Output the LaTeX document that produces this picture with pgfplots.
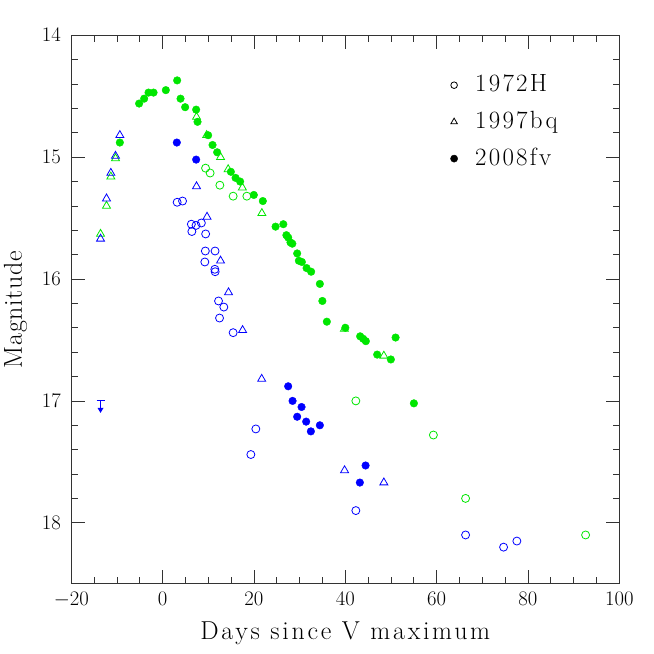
\documentclass[border=0pt]{standalone}
\usepackage{fontspec}
\setmainfont{Latin Modern Roman}
\usepackage{pgfplots}
\pgfplotsset{compat=1.18}
\definecolor{mgreen}{RGB}{0,230,0}
\definecolor{mblue}{RGB}{0,0,255}

\pgfdeclareplotmark{ulim}{%
  \pgfpathmoveto{\pgfqpoint{-4bp}{0bp}}%
  \pgfpathlineto{\pgfqpoint{4bp}{0bp}}%
  \pgfpathmoveto{\pgfqpoint{0bp}{0bp}}%
  \pgfpathlineto{\pgfqpoint{0bp}{-8bp}}%
  \pgfusepathqstroke
  \pgfpathmoveto{\pgfqpoint{-3bp}{-7bp}}%
  \pgfpathlineto{\pgfqpoint{0bp}{-12bp}}%
  \pgfpathlineto{\pgfqpoint{3bp}{-7bp}}%
  \pgfpathclose
  \pgfusepathqfill
}

\begin{document}
\begin{tikzpicture}
\begin{axis}[
  scale only axis, width=548bp, height=548.4bp,
  xmin=-20, xmax=100, ymin=14, ymax=18.5, y dir=reverse,
  xtick={-20,0,20,40,60,80,100}, minor x tick num=3,
  ytick={14,15,16,17,18}, minor y tick num=4,
  major tick length=13.5bp, minor tick length=6.5bp,
  tick style={black!80, line width=0.8bp},
  axis line style={black!80, line width=1.1bp},
  tick label style={font=\fontsize{22}{26}\selectfont},
  xticklabel style={yshift=-5bp},
  yticklabel style={xshift=-7bp},
  xlabel={Days since V maximum},
  ylabel={Magnitude},
  xlabel style={font=\fontsize{26}{31}\selectfont\addfontfeatures{LetterSpace=10.5},
    at={(axis description cs:0.5,0)}, anchor=base, yshift=-55.3bp},
  ylabel style={font=\fontsize{26}{31}\selectfont\addfontfeatures{LetterSpace=3},
    at={(axis description cs:-0.09,0.5)}, anchor=base},
  legend cell align=left,
  legend style={draw=none, fill=none, inner sep=0pt, outer sep=0pt,
    at={(axis description cs:0.692,0.93)}, anchor=north west,
    font=\fontsize{25}{30}\selectfont\addfontfeatures{LetterSpace=9},
    row sep=13.7bp, column sep=17.5bp,
    nodes={inner sep=0pt, text height=18bp, text depth=5bp}},
]
% legend images
\addlegendimage{only marks, mark=o, black, mark size=3.3bp, mark options={line width=0.8bp}}
\addlegendentry{1972H}
\addlegendimage{only marks, mark=triangle, black, mark size=3.8bp, mark options={line width=0.8bp}}
\addlegendentry{1997bq}
\addlegendimage{only marks, mark=*, black, mark size=3.6bp}
\addlegendentry{2008fv}

% 1972H V (green open circles)
\addplot[forget plot, only marks, mark=o, mgreen, mark size=4bp, mark options={line width=0.8bp}] coordinates {
(9.40,15.09) (10.40,15.13) (12.53,15.23) (15.44,15.32) (18.44,15.32)
(42.31,17.00) (59.29,17.28) (66.34,17.80) (92.62,18.10)
};
% 1997bq V (green triangles)
\addplot[forget plot, only marks, mark=triangle, mgreen, mark size=4.6bp, mark options={line width=0.8bp}] coordinates {
(-13.60,15.63) (-12.29,15.40) (-11.34,15.16) (-10.32,15.01)
(7.42,14.67) (9.64,14.82) (12.68,15.00) (14.35,15.10) (17.46,15.25)
(21.73,15.46) (39.79,16.41) (48.44,16.63)
};
% 2008fv V (green filled)
\addplot[forget plot, only marks, mark=*, mgreen, mark size=3.8bp] coordinates {
(-9.37,14.88) (-5.15,14.56) (-4.05,14.52) (-3.09,14.47) (-1.99,14.47)
(0.70,14.45) (3.18,14.37) (3.92,14.52) (4.93,14.59) (7.34,14.61)
(7.64,14.71) (9.96,14.82) (10.93,14.90) (11.94,14.96) (14.94,15.12)
(15.97,15.17) (16.97,15.20) (19.97,15.31) (21.94,15.36) (24.73,15.57)
(26.43,15.55) (27.10,15.64) (27.50,15.66) (28.00,15.70) (28.40,15.71)
(29.46,15.79) (29.83,15.85) (30.49,15.86) (31.52,15.91) (32.52,15.94)
(34.43,16.04) (34.98,16.18) (35.96,16.35) (40.01,16.40) (43.25,16.47)
(43.91,16.49) (44.50,16.51) (46.98,16.62) (49.98,16.66) (51.01,16.48)
(55.02,17.02)
};
% 1972H B (blue open circles)
\addplot[forget plot, only marks, mark=o, mblue, mark size=4bp, mark options={line width=0.8bp}] coordinates {
(3.18,15.37) (4.36,15.36) (6.29,15.55) (7.31,15.56) (6.40,15.61)
(8.48,15.54) (9.42,15.63) (9.35,15.77) (11.48,15.77) (9.24,15.86)
(11.43,15.92) (11.50,15.94) (12.24,16.18) (13.40,16.23) (12.46,16.32)
(15.44,16.44) (20.41,17.23) (19.32,17.44) (42.31,17.90) (66.34,18.10)
(74.66,18.20) (77.57,18.15)
};
% 1997bq B (blue triangles)
\addplot[forget plot, only marks, mark=triangle, mblue, mark size=4.6bp, mark options={line width=0.8bp}] coordinates {
(-13.60,15.67) (-12.29,15.34) (-11.34,15.13) (-10.32,14.99) (-9.37,14.82)
(7.42,15.24) (9.72,15.49) (12.68,15.85) (14.43,16.11) (17.51,16.42)
(21.69,16.82) (39.84,17.57) (48.44,17.67)
};
% 1997bq B upper limit
\addplot[forget plot, only marks, mark=ulim, mblue, mark options={line width=0.9bp}] coordinates {
(-13.60,17.00)
};
% 2008fv B (blue filled)
\addplot[forget plot, only marks, mark=*, mblue, mark size=3.8bp] coordinates {
(3.11,14.88) (7.34,15.02) (27.49,16.88) (28.45,17.00) (30.42,17.05)
(29.46,17.13) (31.43,17.17) (32.46,17.25) (34.43,17.20) (44.44,17.53)
(43.19,17.67)
};
\end{axis}
\pgfresetboundingbox
\path (-71.3bp,-70.3bp) rectangle (582.7bp,583.7bp);
\end{tikzpicture}
\end{document}
